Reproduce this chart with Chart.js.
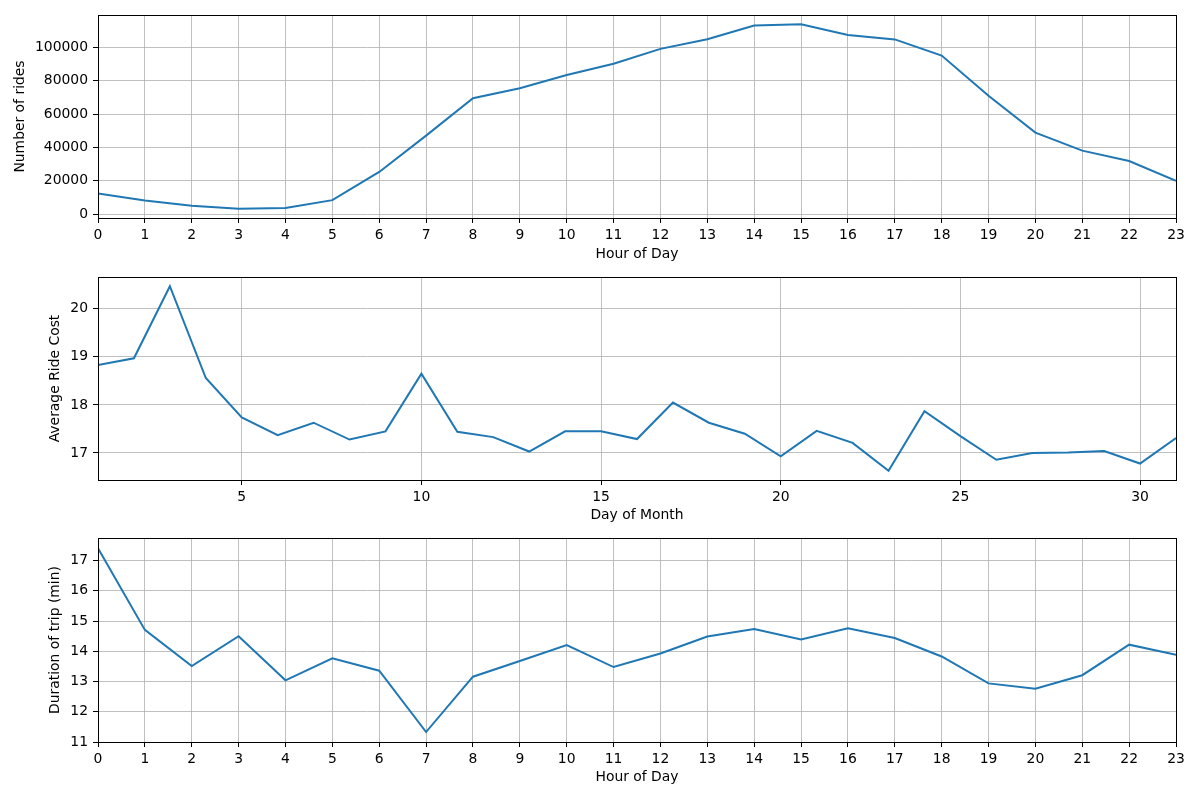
<!DOCTYPE html>
<html>
<head>
<meta charset="utf-8">
<script src="https://cdn.jsdelivr.net/npm/chart.js@4"></script>
<style>
  body { margin: 0; background: #fff; }
  canvas { display: block; position: absolute; left: 0; }
</style>
</head>
<body>
<canvas id="rides" width="1200" height="267" style="top:0"></canvas>
<canvas id="cost" width="1200" height="264" style="top:263px"></canvas>
<canvas id="duration" width="1200" height="276" style="top:524px"></canvas>
<script>
// data
const hours = [0, 1, 2, 3, 4, 5, 6, 7, 8, 9, 10, 11, 12, 13, 14, 15, 16, 17, 18, 19, 20, 21, 22, 23];
const ridesPerHour = [12400, 8200, 5000, 3200, 3600, 8400, 25300, 47100, 69600, 75600, 83500, 90300,
    99200, 105000, 113200, 114000, 107600, 104900, 95200, 71000, 48900, 38100, 31900, 20000];

const days = [1, 2, 3, 4, 5, 6, 7, 8, 9, 10, 11, 12, 13, 14, 15, 16, 17, 18, 19, 20, 21, 22, 23, 24, 25, 26, 27, 28, 29, 30, 31];
const avgCost = [18.83, 18.97, 20.47, 18.56, 17.74, 17.37, 17.63, 17.28, 17.45, 18.65, 17.44, 17.33, 17.03, 17.45, 17.45,
    17.29, 18.05, 17.63, 17.40, 16.93, 17.46, 17.21, 16.63, 17.87, 17.35, 16.86, 17.00, 17.01, 17.04, 16.78, 17.31];

const tripDuration = [17.41, 14.71, 13.51, 14.50, 13.04, 13.77, 13.36, 11.33, 13.16, 13.68, 14.21, 13.48,
    13.93, 14.49, 14.74, 14.39, 14.76, 14.44, 13.83, 12.94, 12.76, 13.21, 14.22, 13.89];

const rideTicks = [0, 20000, 40000, 60000, 80000, 100000];
const dayTicks = [5, 10, 15, 20, 25, 30];
const costTicks = [17, 18, 19, 20];
const durationTicks = [11, 12, 13, 14, 15, 16, 17];

Chart.defaults.font.family = 'DejaVu Sans';
Chart.defaults.font.size = 13.9;
Chart.defaults.color = '#000';

// black box round the plot area, like the matplotlib spines
const frame = {
    id: 'frame',
    afterDraw(chart) {
        const { ctx, chartArea: a } = chart;
        ctx.save();
        ctx.strokeStyle = '#000';
        ctx.lineWidth = 1;
        ctx.strokeRect(Math.round(a.left) + 0.5, Math.round(a.top) + 0.5,
            Math.round(a.right - a.left), Math.round(a.bottom - a.top));
        ctx.restore();
    }
};

function padded(values) {
    const lo = Math.min(...values), hi = Math.max(...values);
    const m = (hi - lo) * 0.05;
    return [lo - m, hi + m];
}

function makeChart(id, o) {
    const [ymin, ymax] = o.yRange || padded(o.y);
    new Chart(document.getElementById(id), {
        type: 'line',
        data: {
            datasets: [{
                data: o.x.map((x, i) => ({ x: x, y: o.y[i] })),
                borderColor: '#1f77b4',
                borderWidth: 2,
                pointRadius: 0,
                tension: 0,
                fill: false
            }]
        },
        options: {
            responsive: false,
            animation: false,
            events: [],
            layout: { padding: { top: o.padTop, right: 24, left: 0, bottom: 0 } },
            plugins: { legend: { display: false }, tooltip: { enabled: false } },
            scales: {
                x: {
                    type: 'linear',
                    min: o.xmin,
                    max: o.xmax,
                    afterBuildTicks: s => { s.ticks = o.xTicks.map(v => ({ value: v })); },
                    afterFit: s => { s.height = o.xAxisHeight; },
                    ticks: { autoSkip: false, maxRotation: 0, padding: 4, callback: v => String(v) },
                    grid: { color: '#b0b0b0', lineWidth: 0.8, tickLength: 5, tickColor: '#000', tickWidth: 1 },
                    border: { display: false },
                    title: { display: true, text: o.xTitle, padding: { top: 0, bottom: o.xTitlePad } }
                },
                y: {
                    type: 'linear',
                    min: ymin,
                    max: ymax,
                    afterBuildTicks: s => { s.ticks = o.yTicks.map(v => ({ value: v })); },
                    afterFit: s => { s.width = 98; },
                    ticks: { padding: 5, callback: v => String(v) },
                    grid: { color: '#b0b0b0', lineWidth: 0.8, tickLength: 5, tickColor: '#000', tickWidth: 1 },
                    border: { display: false },
                    title: { display: true, text: o.yTitle, padding: { top: o.yTitlePad, bottom: 0 } }
                }
            }
        },
        plugins: [frame]
    });
}

makeChart('rides', {
    x: hours, y: ridesPerHour, xmin: 0, xmax: 23, xTicks: hours, yTicks: rideTicks,
    padTop: 15, xAxisHeight: 49, xTitle: 'Hour of Day', xTitlePad: 4.7,
    yTitle: 'Number of rides', yTitlePad: 12
});

makeChart('cost', {
    x: days, y: avgCost, xmin: 1, xmax: 31, xTicks: dayTicks, yTicks: costTicks,
    padTop: 14, xAxisHeight: 47, xTitle: 'Day of Month', xTitlePad: 3.7,
    yTitle: 'Average Ride Cost', yTitlePad: 47
});

makeChart('duration', {
    x: hours, y: tripDuration, xmin: 0, xmax: 23, xTicks: hours, yTicks: durationTicks,
    yRange: [11, 17.75],
    padTop: 14, xAxisHeight: 58, xTitle: 'Hour of Day', xTitlePad: 14.4,
    yTitle: 'Duration of trip (min)', yTitlePad: 47
});
</script>
</body>
</html>
